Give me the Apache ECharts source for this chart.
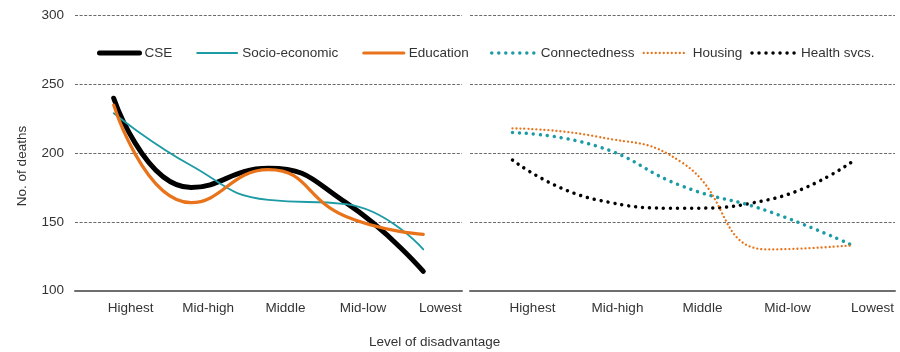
<!DOCTYPE html>
<html>
<head>
<meta charset="utf-8">
<script src="https://cdn.jsdelivr.net/npm/echarts@6/dist/echarts.min.js"></script>
<style>
html,body{margin:0;padding:0;background:#fff;}
#chart{width:900px;height:352px;}
</style>
</head>
<body>
<div id="chart"></div>
<script>
var categories = ['Highest', 'Mid-high', 'Middle', 'Mid-low', 'Lowest'];
var yTicks = [100, 150, 200, 250, 300];

var cse = [240, 175, 189, 164, 114];
var socioEconomic = [229, 191, 166, 163, 130];
var education = [235, 164, 188, 154, 141];

var connectedness = [215, 205, 176, 158, 133];
var housing = [218, 212, 193, 130, 133];
var healthSvcs = [195, 166, 160, 166, 194];

var FONT = 'Liberation Sans, Arial, sans-serif';
var TXT = '#333';
var TEAL = '#1c9ba5';
var ORANGE = '#e8731a';

var chart = echarts.init(document.getElementById('chart'), null, {renderer: 'canvas'});

function xAxisFor(gridIndex, shift) {
  return {
    type: 'category', gridIndex: gridIndex, data: categories, boundaryGap: true,
    axisLine: {show: true, lineStyle: {color: '#6e6e6e', width: 2}},
    axisTick: {show: false},
    axisLabel: {color: TXT, fontFamily: FONT, fontSize: 13.5, margin: 11, padding: [0, 0, 0, shift * 2]},
    splitLine: {show: false}
  };
}
function yAxisFor(gridIndex, showLabels) {
  return {
    type: 'value', gridIndex: gridIndex, min: yTicks[0], max: yTicks[yTicks.length - 1], interval: 50,
    axisLine: {show: false}, axisTick: {show: false},
    axisLabel: {show: showLabels, color: TXT, fontFamily: FONT, fontSize: 13.5, margin: 11},
    splitLine: {show: true, lineStyle: {color: '#6a6a6a', width: 1, type: [3, 1.6]}}
  };
}
function solid(name, data, color, width, z) {
  return {
    name: name, type: 'line', xAxisIndex: 0, yAxisIndex: 0, data: data, smooth: true,
    symbol: 'none', z: z,
    lineStyle: {color: color, width: width, cap: 'round'}, itemStyle: {color: color}
  };
}
function dotted(name, data, color, width, dash, z) {
  return {
    name: name, type: 'line', xAxisIndex: 1, yAxisIndex: 1, data: data, smooth: true,
    symbol: 'none', z: z,
    lineStyle: {color: color, width: width, type: dash, cap: 'round'}, itemStyle: {color: color}
  };
}
function legendItem(name, color, width, dash) {
  return {name: name, lineStyle: {color: color, width: width, type: dash || 'solid', cap: 'round'}};
}

chart.setOption({
  animation: false,
  backgroundColor: '#fff',
  grid: [
    {left: 75, right: 438, top: 15.7, bottom: 61.3},
    {left: 470, right: 5, top: 15.7, bottom: 61.3}
  ],
  xAxis: [xAxisFor(0, 17), xAxisFor(1, 20)],
  yAxis: [yAxisFor(0, true), yAxisFor(1, false)],
  legend: [
    {
      data: [
        legendItem('CSE', '#000', 5),
        legendItem('Socio-economic', TEAL, 1.8),
        legendItem('Education', ORANGE, 3.2)
      ],
      left: 92, top: 41, itemWidth: 40, itemHeight: 14, itemGap: 24,
      itemStyle: {opacity: 0},
      textStyle: {color: TXT, fontFamily: FONT, fontSize: 13.5}
    },
    {
      data: [
        legendItem('Connectedness', TEAL, 3.5, [0.01, 7]),
        legendItem('Housing', ORANGE, 2.3, [0.01, 4]),
        legendItem('Health svcs.', '#000', 3.5, [0.01, 7])
      ],
      left: 485, top: 41, itemWidth: 44, itemHeight: 14, itemGap: 8,
      itemStyle: {opacity: 0},
      textStyle: {color: TXT, fontFamily: FONT, fontSize: 13.5}
    }
  ],
  graphic: [
    {type: 'text', left: 369, top: 335, style: {text: 'Level of disadvantage', fill: TXT, font: '13.5px ' + FONT}},
    {type: 'text', x: 22, y: 166, rotation: Math.PI / 2,
     style: {text: 'No. of deaths', fill: TXT, font: '13.5px ' + FONT, align: 'center', verticalAlign: 'middle'}}
  ],
  series: [
    solid('Socio-economic', socioEconomic, TEAL, 1.8, 3),
    solid('Education', education, ORANGE, 3.2, 4),
    solid('CSE', cse, '#000', 5, 2),
    dotted('Connectedness', connectedness, TEAL, 3.5, [0.01, 7], 3),
    dotted('Housing', housing, ORANGE, 2.3, [0.01, 4], 4),
    dotted('Health svcs.', healthSvcs, '#000', 3.5, [0.01, 7], 2)
  ]
});
</script>
</body>
</html>
